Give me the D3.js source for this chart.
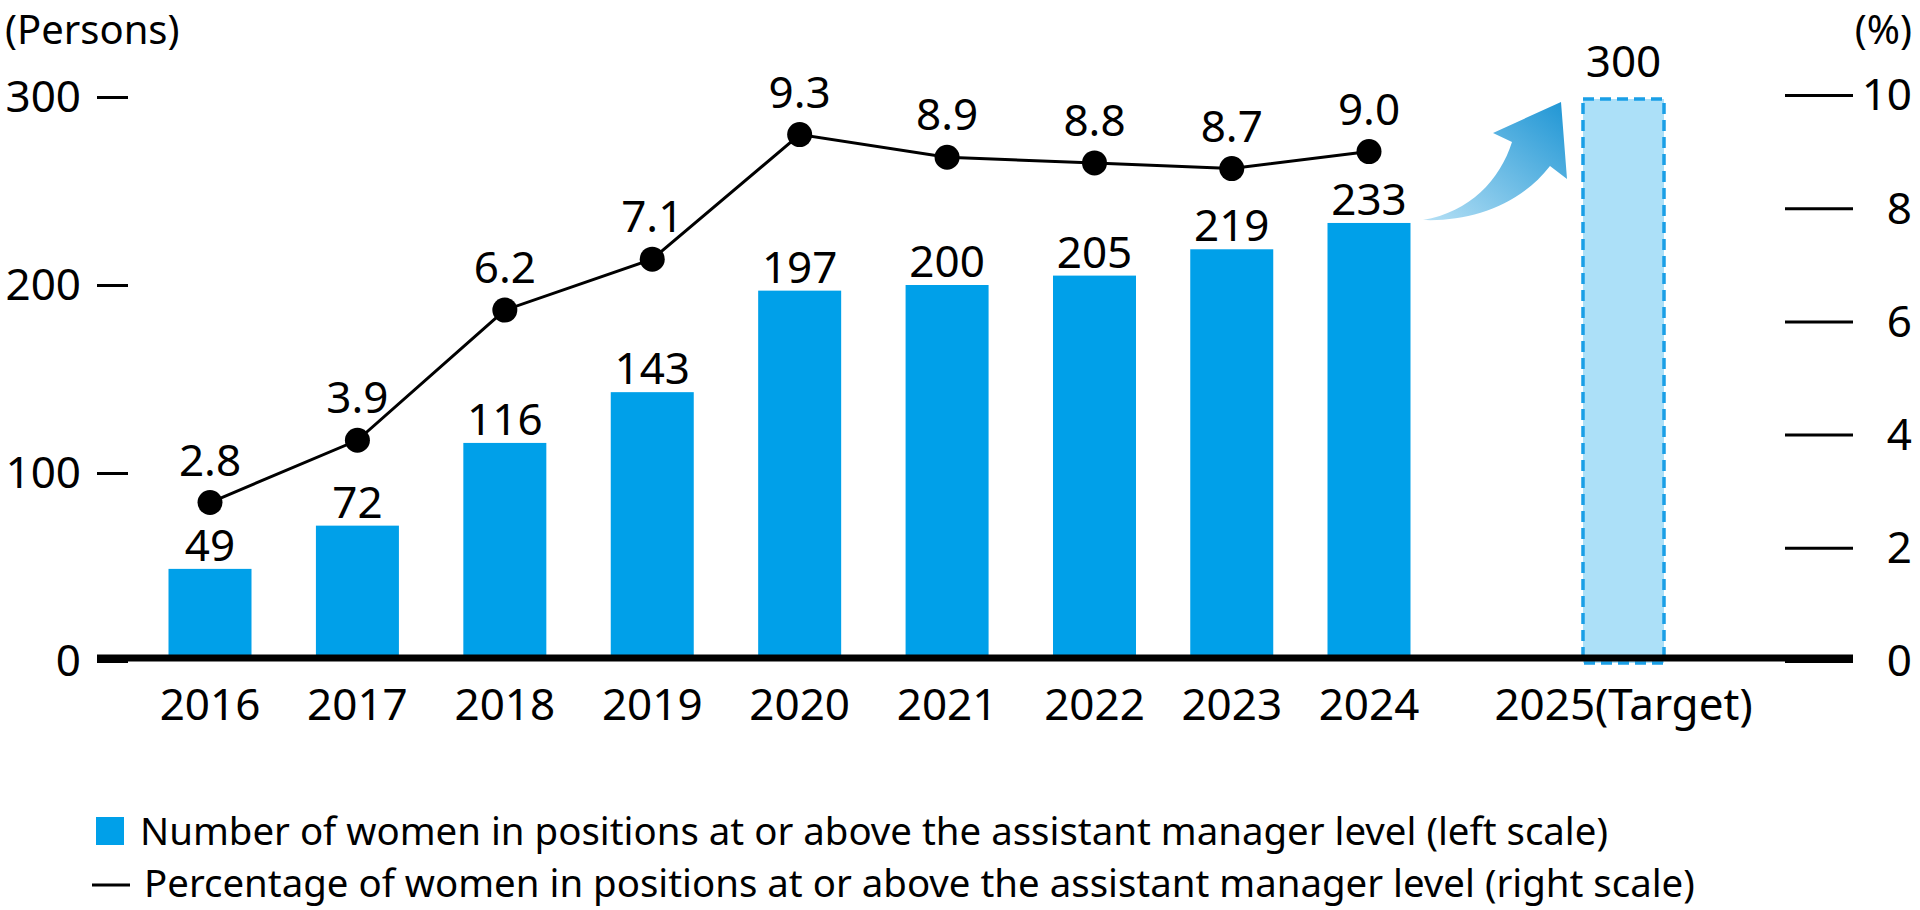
<!DOCTYPE html>
<html>
<head>
<meta charset="utf-8">
<script src="https://cdn.jsdelivr.net/npm/d3@7"></script>
<style>
  body { margin: 0; background: #fff; }
  svg { display: block; font-family: "Noto Sans", sans-serif; }
</style>
</head>
<body>
<div id="chart"></div>
<script>
const w = 1920;
const h = 910;

// data
const years = ["2016", "2017", "2018", "2019", "2020", "2021", "2022", "2023", "2024"];
const women = [49, 72, 116, 143, 197, 200, 205, 219, 233];
const percent = [2.8, 3.9, 6.2, 7.1, 9.3, 8.9, 8.8, 8.7, 9.0];
const targetLabel = "2025(Target)";
const targetValue = 300;
const leftTicks = [0, 100, 200, 300];
const rightTicks = [0, 2, 4, 6, 8, 10];
const legendLabels = [
    "Number of women in positions at or above the assistant manager level (left scale)",
    "Percentage of women in positions at or above the assistant manager level (right scale)"
];

const barColor = "#00a0e9";
const targetFill = "#ace0f8";
const targetStroke = "#1a9fe6";

const svg = d3.select("#chart")
    .append("svg")
    .attr("width", w)
    .attr("height", h);

// x positions by slot index (the spacing in the original is not even)
const x = d3.scaleLinear()
    .domain([0, 6, 8, 9])
    .range([210, 1094.5, 1369, 1623.5]);
const barW = 83;

const yLeft = d3.scaleLinear().domain([0, 300]).range([661, 97]);
const yRight = d3.scaleLinear().domain([0, 10]).range([661, 95]);

// unit labels
svg.append("text")
    .attr("x", 5).attr("y", 44)
    .attr("font-size", 40)
    .text("(Persons)");

svg.append("text")
    .attr("x", 1912).attr("y", 44)
    .attr("text-anchor", "end")
    .attr("font-size", 40)
    .text("(%)");

// left axis
const gLeft = svg.append("g")
    .attr("transform", "translate(128,0)")
    .call(d3.axisLeft(yLeft).tickValues(leftTicks).tickSize(31).tickPadding(16));
gLeft.select(".domain").remove();
gLeft.selectAll("line").attr("stroke", "#000").attr("stroke-width", 3);
gLeft.selectAll("text")
    .attr("font-size", 44)
    .attr("font-family", "Noto Sans")
    .attr("fill", "#000")
    .attr("dy", "0.34em");

// right axis
const gRight = svg.append("g")
    .attr("transform", "translate(1785,0)")
    .call(d3.axisRight(yRight).tickValues(rightTicks).tickSize(68));
gRight.select(".domain").remove();
gRight.selectAll("line").attr("stroke", "#000").attr("stroke-width", 3);
gRight.selectAll("text")
    .attr("font-size", 44)
    .attr("font-family", "Noto Sans")
    .attr("fill", "#000")
    .attr("text-anchor", "end")
    .attr("x", 127)
    .attr("dy", "0.34em");

// bars
svg.selectAll("rect.bar")
    .data(women)
    .enter()
    .append("rect")
    .attr("class", "bar")
    .attr("x", (d, i) => x(i) - barW / 2)
    .attr("y", d => yLeft(d))
    .attr("width", barW)
    .attr("height", d => yLeft(0) - yLeft(d))
    .attr("fill", barColor);

svg.selectAll("text.barLabel")
    .data(women)
    .enter()
    .append("text")
    .attr("class", "barLabel")
    .attr("x", (d, i) => x(i))
    .attr("y", d => yLeft(d) - 8)
    .attr("text-anchor", "middle")
    .attr("font-size", 44)
    .text(d => d);

// target bar
svg.append("rect")
    .attr("x", x(9) - 85 / 2 + 2)
    .attr("y", yLeft(targetValue) + 2)
    .attr("width", 85 - 4)
    .attr("height", yLeft(0) - yLeft(targetValue))
    .attr("fill", targetFill)
    .attr("stroke", targetStroke)
    .attr("stroke-width", 3.5)
    .attr("stroke-dasharray", "11,6");

svg.append("text")
    .attr("x", x(9))
    .attr("y", yLeft(targetValue) - 20)
    .attr("text-anchor", "middle")
    .attr("font-size", 44)
    .text(targetValue);

// curved arrow towards the target
const grad = svg.append("defs")
    .append("linearGradient")
    .attr("id", "arrowGrad")
    .attr("x1", "0%").attr("y1", "100%")
    .attr("x2", "100%").attr("y2", "0%");
grad.append("stop").attr("offset", "0%").attr("stop-color", "#b5e0f5");
grad.append("stop").attr("offset", "100%").attr("stop-color", "#1e95d4");

svg.append("path")
    .attr("d", "M1423,220 C1470,222 1520,205 1550,166 L1567,179 L1561,102 L1493,133 L1512,142 C1500,180 1470,212 1423,220 Z")
    .attr("fill", "url(#arrowGrad)");

// x axis line
svg.append("line")
    .attr("x1", 97).attr("x2", 1853)
    .attr("y1", 658).attr("y2", 658)
    .attr("stroke", "#000")
    .attr("stroke-width", 7);

// x labels
svg.selectAll("text.xLabel")
    .data(years.concat([targetLabel]))
    .enter()
    .append("text")
    .attr("class", "xLabel")
    .attr("x", (d, i) => x(i))
    .attr("y", 720)
    .attr("text-anchor", "middle")
    .attr("font-size", 44)
    .text(d => d);

// percentage line
const line = d3.line()
    .x((d, i) => x(i))
    .y(d => yRight(d));

svg.append("path")
    .datum(percent)
    .attr("d", line)
    .attr("fill", "none")
    .attr("stroke", "#000")
    .attr("stroke-width", 3);

svg.selectAll("circle.pt")
    .data(percent)
    .enter()
    .append("circle")
    .attr("class", "pt")
    .attr("cx", (d, i) => x(i))
    .attr("cy", d => yRight(d))
    .attr("r", 12.5)
    .attr("fill", "#000");

svg.selectAll("text.ptLabel")
    .data(percent)
    .enter()
    .append("text")
    .attr("class", "ptLabel")
    .attr("x", (d, i) => x(i))
    .attr("y", d => yRight(d) - 27)
    .attr("text-anchor", "middle")
    .attr("font-size", 44)
    .text(d => d.toFixed(1));

// legend
svg.append("rect")
    .attr("x", 96).attr("y", 817)
    .attr("width", 28).attr("height", 28)
    .attr("fill", barColor);
svg.append("text")
    .attr("x", 140).attr("y", 845)
    .attr("font-size", 38.4)
    .text(legendLabels[0]);

svg.append("line")
    .attr("x1", 92).attr("x2", 130)
    .attr("y1", 885).attr("y2", 885)
    .attr("stroke", "#000")
    .attr("stroke-width", 3);
svg.append("text")
    .attr("x", 144).attr("y", 897)
    .attr("font-size", 38.4)
    .text(legendLabels[1]);
</script>
</body>
</html>
